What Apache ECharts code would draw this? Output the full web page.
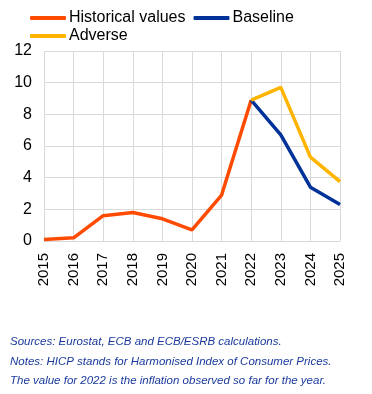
<!DOCTYPE html>
<html><head><meta charset="utf-8">
<script src="https://cdn.jsdelivr.net/npm/echarts@6/dist/echarts.min.js"></script>
<style>html,body{margin:0;padding:0;background:#fff}#c{width:372px;height:394px}</style>
</head><body><div id="c"></div>
<script>
const years = ['2015','2016','2017','2018','2019','2020','2021','2022','2023','2024','2025'];
const historical = [0.1, 0.2, 1.6, 1.8, 1.4, 0.7, 2.9, 8.9, null, null, null];
const baseline = [null, null, null, null, null, null, null, 8.9, 6.7, 3.4, 2.3];
const adverse = [null, null, null, null, null, null, null, 8.9, 9.7, 5.3, 3.75];
const yTicks = [0, 2, 4, 6, 8, 10, 12];
const notes = [
  'Sources: Eurostat, ECB and ECB/ESRB calculations.',
  'Notes: HICP stands for Harmonised Index of Consumer Prices.',
  'The value for 2022 is the inflation observed so far for the year.'
];
const font = 'Liberation Sans, Arial, sans-serif';
const grey = '#d9d9d9';
const chart = echarts.init(document.getElementById('c'), null, {renderer: 'canvas'});
const legendCommon = {
  icon: 'roundRect', itemWidth: 36, itemHeight: 4, itemGap: 8,
  textStyle: {fontFamily: font, fontSize: 16, color: '#000', padding: [0, 0, 0, -2]},
  padding: 0
};
chart.setOption({
  animation: false,
  legend: [
    Object.assign({}, legendCommon, {left: 30, top: 10, data: ['Historical values', 'Baseline']}),
    Object.assign({}, legendCommon, {left: 30, top: 28, data: ['Adverse']})
  ],
  grid: {left: 44, right: 32, top: 51, bottom: 153, containLabel: false},
  xAxis: {
    type: 'category', data: years, boundaryGap: false,
    axisLine: {show: true, lineStyle: {color: grey, width: 1}},
    axisTick: {show: false},
    splitLine: {show: true, lineStyle: {color: grey, width: 1}},
    axisLabel: {rotate: 90, margin: 12, fontFamily: font, fontSize: 15, color: '#000', interval: 0}
  },
  yAxis: {
    type: 'value', min: yTicks[0], max: yTicks[yTicks.length - 1], interval: 2,
    axisLine: {show: false}, axisTick: {show: false},
    splitLine: {show: true, lineStyle: {color: grey, width: 1}},
    axisLabel: {margin: 12, fontFamily: font, fontSize: 16, color: '#000'}
  },
  series: [
    {name: 'Historical values', type: 'line', data: historical, symbol: 'none', color: '#ff4b00',
      lineStyle: {width: 3.5, color: '#ff4b00'}, z: 2},
    {name: 'Baseline', type: 'line', data: baseline, symbol: 'none', color: '#003299',
      lineStyle: {width: 3.5, color: '#003299'}, z: 3},
    {name: 'Adverse', type: 'line', data: adverse, symbol: 'none', color: '#ffb400',
      lineStyle: {width: 3.5, color: '#ffb400'}, z: 4}
  ],
  graphic: notes.map((t, i) => ({
    type: 'text', left: 10, top: 336 + i * 19.3,
    style: {text: t, font: 'italic 11.5px ' + font, fill: '#1a3a9c'}
  }))
});
</script></body></html>
